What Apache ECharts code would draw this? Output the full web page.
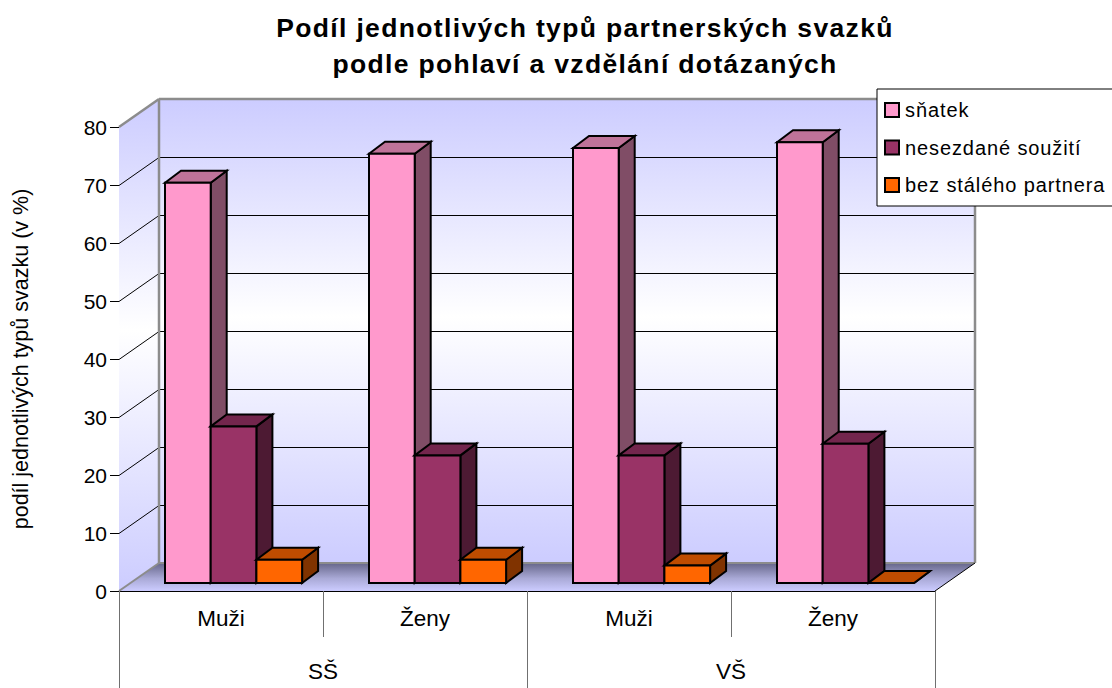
<!DOCTYPE html>
<html><head><meta charset="utf-8">
<style>html,body{margin:0;padding:0;background:#fff;overflow:hidden}#c{width:1112px;height:688px}
#c svg text[style*="bold"]{letter-spacing:1.35px}
#c svg text[style*="20px"]{letter-spacing:0.9px}</style>
<script src="https://cdn.jsdelivr.net/npm/echarts@6/dist/echarts.min.js"></script>
</head><body><div id="c"></div>
<script>
const titleLines = ['Podíl jednotlivých typů partnerských svazků','podle pohlaví a vzdělání dotázaných'];
const yAxisTitle = 'podíl jednotlivých typů svazku (v %)';
const categories = ['Muži','Ženy','Muži','Ženy'];
const groups = ['SŠ','VŠ'];
const yTicks = [0,10,20,30,40,50,60,70,80];
const snatek = [69,74,75,76];
const nesezdane = [27,22,22,24];
const bezPartnera = [4,4,3,0];
const seriesNames = ['sňatek','nesezdané soužití','bez stálého partnera'];
const faceColors = ['#FF99CC','#993366','#FF6600'];
const topColors = ['#BF7399','#73264D','#BF4C00'];
const sideColors = ['#804D66','#4D1A33','#803300'];

const WALL_DX = 40, WALL_DY = 28;
const BAR_LEFT = 46, BAR_W = 45.7, BAR_LIFT = 8, BAR_DX = 16, BAR_DY = 12;
const font = '"Liberation Sans", Arial, sans-serif';
const G = echarts.graphic;
const wallFill = () => new G.LinearGradient(0,0,0,1,[{offset:0,color:'#CCCCFF'},{offset:0.47,color:'#FFFFFF'},{offset:1,color:'#CCCCFF'}]);
const floorFill = () => new G.LinearGradient(0,0,0,1,[{offset:0,color:'#66668A'},{offset:0.55,color:'#A9A9D6'},{offset:1,color:'#CCCCFF'}]);
const wallLine = {stroke:'#8C8C8C',lineWidth:2.5,fill:null};

function renderWalls(params, api){
  const lo = api.coord([0,0]), hi = api.coord([3,80]);
  const sz = api.size([1,0]);
  const L = lo[0]-sz[0]/2, R = hi[0]+sz[0]/2, Y0 = lo[1], Y80 = hi[1];
  const c = [];
  const poly = (pts,style,z2)=>c.push({type:'polygon',shape:{points:pts},style,z2:z2||0});
  const line = (a,b,style,z2)=>c.push({type:'line',shape:{x1:a[0],y1:a[1],x2:b[0],y2:b[1]},style,z2:z2||1});
  poly([[L+WALL_DX,Y80-WALL_DY],[R+WALL_DX,Y80-WALL_DY],[R+WALL_DX,Y0-WALL_DY],[L+WALL_DX,Y0-WALL_DY]],{fill:wallFill()});
  poly([[L,Y80],[L+WALL_DX,Y80-WALL_DY],[L+WALL_DX,Y0-WALL_DY],[L,Y0]],{fill:wallFill()});
  poly([[L,Y0],[L+WALL_DX,Y0-WALL_DY],[R+WALL_DX,Y0-WALL_DY],[R,Y0]],{fill:floorFill()});
  yTicks.slice(1,-1).forEach(v=>{
    const y = Math.round(api.coord([0,v])[1])+0.5;
    line([L,y],[L+WALL_DX,y-WALL_DY],{stroke:'#000',lineWidth:1});
    line([L+WALL_DX,y-WALL_DY],[R+WALL_DX,y-WALL_DY],{stroke:'#000',lineWidth:1});
  });
  line([L,Y80],[L+WALL_DX,Y80-WALL_DY],wallLine,2);
  line([L+WALL_DX,Y80-WALL_DY],[R+WALL_DX,Y80-WALL_DY],wallLine,2);
  line([L+WALL_DX,Y80-WALL_DY],[L+WALL_DX,Y0-WALL_DY],wallLine,2);
  line([R+WALL_DX,Y80-WALL_DY],[R+WALL_DX,Y0-WALL_DY],wallLine,2);
  line([L,Y0],[L+WALL_DX,Y0-WALL_DY],{stroke:'#8C8C8C',lineWidth:2},2);
  line([L+WALL_DX,Y0-WALL_DY],[R+WALL_DX,Y0-WALL_DY],{stroke:'#8C8C8C',lineWidth:2},2);
  line([R,Y0],[R+WALL_DX,Y0-WALL_DY],{stroke:'#000',lineWidth:1},2);
  return {type:'group',children:c};
}

function barRenderer(k){
  return function(params, api){
    const i = api.value(0), v = api.value(1);
    const p0 = api.coord([i,0]), p1 = api.coord([i,v]);
    const band = api.size([1,0])[0];
    const x0 = p0[0]-band/2+BAR_LEFT+k*BAR_W, x1 = x0+BAR_W;
    const yb = p0[1]-BAR_LIFT, yt = p1[1]-BAR_LIFT;
    const st = {stroke:'#000',lineWidth:2,lineJoin:'miter'};
    const ch = [];
    ch.push({type:'polygon',shape:{points:[[x1,yb],[x1+BAR_DX,yb-BAR_DY],[x1+BAR_DX,yt-BAR_DY],[x1,yt]]},style:{...st,fill:sideColors[k]}});
    ch.push({type:'polygon',shape:{points:[[x0,yt],[x0+BAR_DX,yt-BAR_DY],[x1+BAR_DX,yt-BAR_DY],[x1,yt]]},style:{...st,fill:topColors[k]}});
    if(v>0) ch.push({type:'rect',shape:{x:x0,y:yt,width:BAR_W,height:yb-yt},style:{...st,fill:faceColors[k]}});
    return {type:'group',children:ch};
  };
}
const toPairs = a => a.map((v,i)=>[i,v]);
const values = [snatek,nesezdane,bezPartnera];

const chart = echarts.init(document.getElementById('c'),null,{renderer:'svg'});
chart.setOption({
  animation:false,
  backgroundColor:'#fff',
  textStyle:{fontFamily:font},
  title:{text:titleLines.join('\n'),left:580,top:5,textAlign:'center',
    textStyle:{fontFamily:font,fontWeight:'bold',fontSize:26.5,lineHeight:36,color:'#000'}},
  grid:{left:119,right:177,top:127,bottom:97,containLabel:false},
  legend:{orient:'vertical',left:877,top:89,data:seriesNames,selectedMode:false,icon:'rect',
    itemWidth:14,itemHeight:14,itemGap:17.5,padding:[11,28,11,7],
    backgroundColor:'#fff',borderColor:'#000',borderWidth:1,borderRadius:0,
    itemStyle:{borderColor:'#000',borderWidth:2},
    textStyle:{fontFamily:font,fontSize:20,color:'#000',padding:[0,0,0,1]}},
  xAxis:[
    {type:'category',data:categories,position:'bottom',boundaryGap:true,
     axisLine:{show:true,lineStyle:{color:'#000',width:1}},
     axisTick:{show:true,alignWithLabel:false,length:46,lineStyle:{color:'#707070',width:1}},
     axisLabel:{margin:16,fontFamily:font,fontSize:22.5,color:'#000',interval:0},splitLine:{show:false}},
    {type:'category',data:groups,position:'bottom',boundaryGap:true,
     axisLine:{show:true,lineStyle:{color:'#000',width:1}},
     axisTick:{show:true,alignWithLabel:false,length:97,lineStyle:{color:'#707070',width:1}},
     axisLabel:{margin:69,fontFamily:font,fontSize:22.5,color:'#000',interval:0},splitLine:{show:false}}
  ],
  yAxis:{type:'value',min:0,max:80,interval:10,
    name:yAxisTitle,nameLocation:'middle',nameGap:87,nameRotate:90,
    nameTextStyle:{fontFamily:font,fontSize:21.5,color:'#000'},
    axisLine:{show:true,lineStyle:{color:'#666',width:1}},
    axisTick:{show:true,length:9,lineStyle:{color:'#000',width:1}},
    axisLabel:{margin:12,fontFamily:font,fontSize:21,color:'#000'},
    splitLine:{show:false}},
  series:[
    {type:'custom',name:'stěny',silent:true,z:1,renderItem:renderWalls,data:[[0,0]],encode:{x:0,y:1},tooltip:{show:false}},
    ...seriesNames.map((n,k)=>({type:'custom',name:n,z:2+k,renderItem:barRenderer(k),clip:false,
      data:toPairs(values[k]),encode:{x:0,y:1},itemStyle:{color:faceColors[k]}}))
  ]
});
</script></body></html>
